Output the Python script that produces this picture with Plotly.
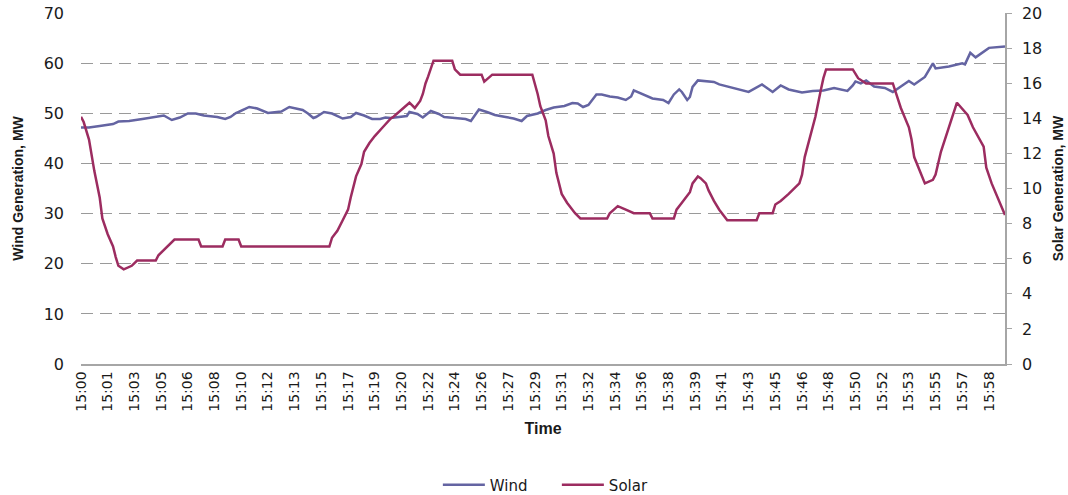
import plotly.graph_objects as go

# Sample index (one sample per position on the category axis)
wind_idx = [0, 3, 7, 12, 14, 18, 23, 28, 31, 34, 37, 40, 43, 46, 51, 54, 56, 58, 59, 63, 66, 70, 75, 78,
            83, 85, 87, 88, 91, 94, 97, 98, 101, 103, 106, 109, 112, 114, 116, 119, 122, 123, 126, 128,
            131, 134, 136, 140, 144, 146, 147, 149, 152, 155, 159, 162, 165, 167, 171, 174, 177, 181,
            184, 186, 188, 190, 193, 195, 198, 201, 204, 206, 207, 209, 211, 214, 218, 220, 222, 224,
            225, 227, 228, 229, 231, 233, 237, 239, 243, 247, 250, 255, 259, 262, 265, 270, 274, 278,
            282, 287, 289, 290, 292, 294, 297, 301, 304, 307, 310, 312, 316, 319, 320, 325, 330, 331,
            333, 335, 339, 340, 346]
wind_mw = [47.2, 47.2, 47.5, 47.9, 48.4, 48.5, 48.9, 49.3, 49.6, 48.7, 49.2, 50.0, 50.0, 49.6, 49.3, 48.9,
           49.3, 50.1, 50.3, 51.3, 51.0, 50.1, 50.4, 51.3, 50.7, 50.0, 49.1, 49.3, 50.3, 50.0, 49.3,
           49.0, 49.3, 50.1, 49.6, 48.9, 48.9, 49.2, 49.1, 49.3, 49.5, 50.3, 49.9, 49.2, 50.5, 49.9,
           49.3, 49.1, 48.9, 48.5, 49.3, 50.8, 50.3, 49.7, 49.3, 49.0, 48.5, 49.5, 50.0, 50.7, 51.2,
           51.5, 52.1, 52.0, 51.3, 51.7, 53.8, 53.8, 53.4, 53.2, 52.7, 53.4, 54.6, 54.1, 53.6, 53.0,
           52.7, 52.1, 53.8, 54.8, 54.3, 52.7, 53.3, 55.3, 56.6, 56.5, 56.3, 55.8, 55.3, 54.8, 54.3,
           55.8, 54.3, 55.6, 54.8, 54.2, 54.5, 54.6, 55.1, 54.5, 55.6, 56.4, 56.0, 56.6, 55.4, 55.1,
           54.3, 55.4, 56.5, 55.8, 57.3, 60.0, 59.0, 59.4, 60.0, 59.8, 62.1, 61.2, 62.8, 63.1, 63.4]

solar_idx = [0, 1, 3, 4, 5, 7, 8, 10, 12, 13, 14, 16, 19, 21, 28, 29, 31, 33, 35, 44, 45, 53, 54, 59, 60,
             93, 94, 95, 96, 98, 100, 101, 103, 105, 106, 108, 110, 113, 116, 117, 121, 123, 125, 127,
             128, 129, 130, 131, 132, 139, 140, 142, 150, 151, 154, 169, 170, 171, 172, 174, 175, 177,
             178, 180, 182, 185, 187, 197, 198, 201, 204, 207, 213, 214, 222, 223, 225, 228, 229, 231,
             232, 234, 235, 237, 239, 242, 253, 254, 259, 260, 262, 265, 269, 270, 271, 273, 275, 277,
             278, 279, 289, 291, 294, 304, 305, 307, 310, 311, 312, 314, 316, 319, 320, 322, 325, 327,
             328, 332, 334, 338, 339, 341, 344, 346]
solar_mw = [14.1, 13.8, 12.8, 11.8, 11.0, 9.5, 8.3, 7.4, 6.7, 6.1, 5.6, 5.4, 5.6, 5.9, 5.9, 6.2, 6.5, 6.8,
            7.1, 7.1, 6.7, 6.7, 7.1, 7.1, 6.7, 6.7, 7.2, 7.4, 7.6, 8.2, 8.8, 9.5, 10.7, 11.4, 12.1, 12.6,
            13.0, 13.5, 14.0, 14.1, 14.6, 14.9, 14.6, 15.0, 15.4, 16.0, 16.4, 16.8, 17.3, 17.3, 16.8,
            16.5, 16.5, 16.1, 16.5, 16.5, 16.0, 15.4, 14.7, 13.9, 13.0, 12.0, 10.9, 9.7, 9.2, 8.6, 8.3,
            8.3, 8.6, 9.0, 8.8, 8.6, 8.6, 8.3, 8.3, 8.8, 9.2, 9.8, 10.3, 10.7, 10.6, 10.3, 9.9, 9.3, 8.8,
            8.2, 8.2, 8.6, 8.6, 9.1, 9.3, 9.7, 10.3, 10.8, 11.8, 13.0, 14.1, 15.6, 16.3, 16.8, 16.8,
            16.3, 16.0, 16.0, 15.5, 14.6, 13.5, 12.8, 11.8, 11.1, 10.3, 10.5, 10.8, 12.1, 13.5, 14.3,
            14.9, 14.2, 13.5, 12.4, 11.2, 10.3, 9.2, 8.5]

tick_pos = list(range(0, 341, 10))
tick_labels = ["15:00", "15:01", "15:03", "15:05", "15:06", "15:08", "15:10", "15:12", "15:13", "15:15",
               "15:17", "15:19", "15:20", "15:22", "15:24", "15:26", "15:27", "15:29", "15:31", "15:32",
               "15:34", "15:36", "15:38", "15:39", "15:41", "15:43", "15:45", "15:46", "15:48", "15:50",
               "15:52", "15:53", "15:55", "15:57", "15:58"]

wind_color = "#6464A2"
solar_color = "#9C2C60"
grid_color = "#9A9A9A"
axis_color = "#A6A6A6"
txt = "#1A1A1A"

fig = go.Figure()
fig.add_trace(go.Scatter(x=wind_idx, y=wind_mw, name="Wind", mode="lines",
                         line=dict(color=wind_color, width=2.5), yaxis="y"))
fig.add_trace(go.Scatter(x=solar_idx, y=solar_mw, name="Solar", mode="lines",
                         line=dict(color=solar_color, width=2.5), yaxis="y2"))

fig.update_layout(
    width=1068, height=495,
    margin=dict(l=81, r=63, t=13, b=131, autoexpand=False),
    paper_bgcolor="white", plot_bgcolor="white",
    font=dict(family="DejaVu Sans", size=14, color=txt),
    showlegend=True,
    legend=dict(orientation="h", x=0.515, xanchor="center", y=-0.345, yanchor="middle",
                font=dict(family="DejaVu Sans", size=15, color=txt),
                itemwidth=42, entrywidth=62, entrywidthmode="pixels"),
    xaxis=dict(
        range=[0, 346], tickmode="array", tickvals=tick_pos, ticktext=tick_labels,
        tickangle=-90, tickfont=dict(family="DejaVu Sans", size=14, color=txt),
        showgrid=False, zeroline=False, showline=True, linecolor=axis_color, linewidth=1.5,
        ticks="", automargin=False,
        title=dict(text="<b>Time</b>", font=dict(family="Liberation Sans", size=16, color=txt),
                   standoff=12),
    ),
    yaxis=dict(
        range=[0, 70.06], dtick=10, tick0=0, showgrid=True, gridcolor=grid_color, gridwidth=1,
        griddash="12px,7px", zeroline=False, showline=False, ticks="", automargin=False,
        ticklabelstandoff=16, ticklabeloverflow="allow",
        tickfont=dict(family="DejaVu Sans", size=16, color=txt),
        title=dict(text="<b>Wind Generation, MW</b>",
                   font=dict(family="Liberation Sans", size=14, color=txt), standoff=16),
    ),
    yaxis2=dict(
        range=[0, 20.017], dtick=2, tick0=0, overlaying="y", side="right", showgrid=False,
        zeroline=False, showline=True, linecolor=axis_color, linewidth=1.5, automargin=False,
        ticks="outside", ticklen=5, tickcolor=axis_color, ticklabelstandoff=7,
        ticklabeloverflow="allow",
        tickfont=dict(family="DejaVu Sans", size=16, color=txt),
        title=dict(text="<b>Solar Generation, MW</b>",
                   font=dict(family="Liberation Sans", size=14, color=txt), standoff=12),
    ),
)

# Remove the default page margin so the figure fills the 1068x495 window.
fig.write_html("out.html", config={"displayModeBar": False},
               post_script="document.body.style.margin='0';")
